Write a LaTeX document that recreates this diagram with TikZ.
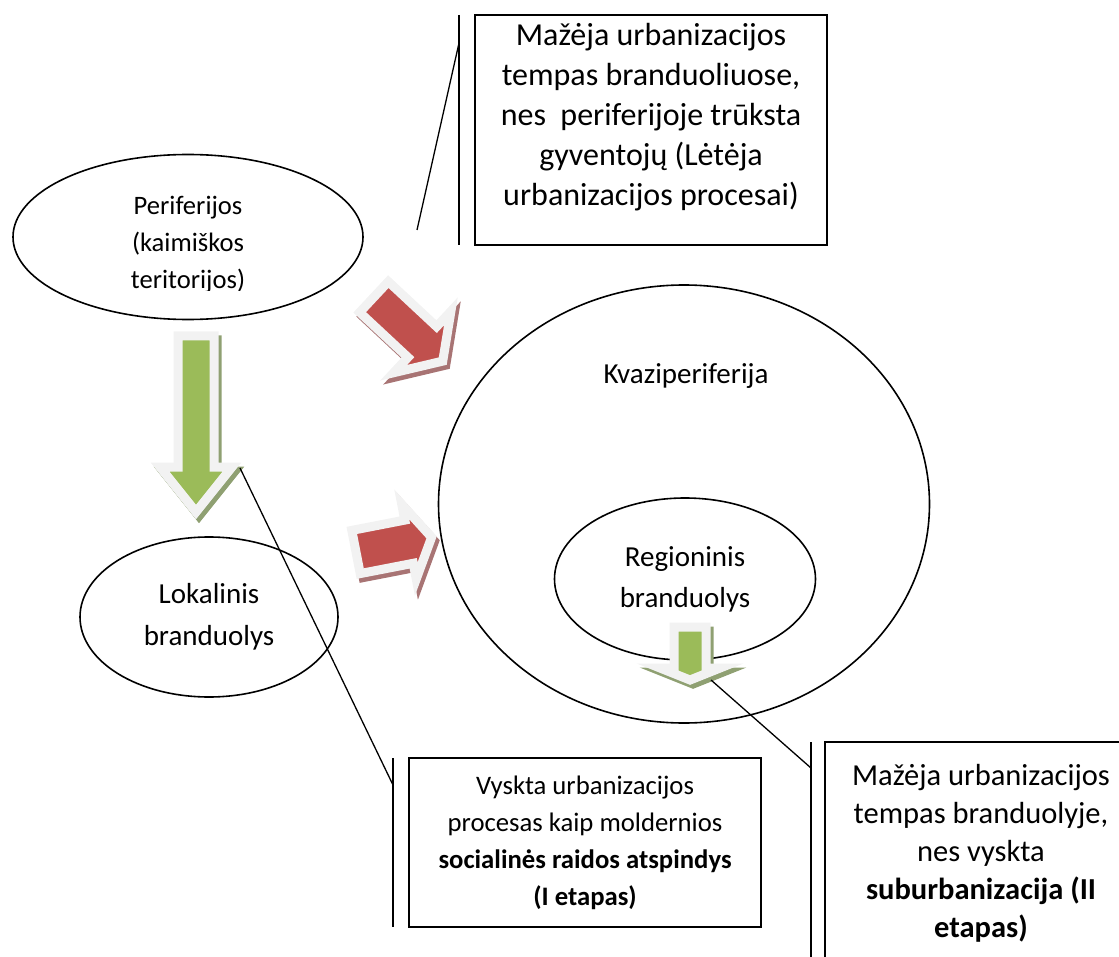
\documentclass[tikz,border=0pt]{standalone}
\usepackage{fontspec}
\setmainfont{Carlito}
\usetikzlibrary{shapes.geometric,positioning}

\definecolor{arrred}{HTML}{C0504D}
\definecolor{arrgreen}{HTML}{9BBB59}
\definecolor{arredge}{HTML}{F2F2F2}
\definecolor{shadred}{HTML}{A87474}
\definecolor{shadgreen}{HTML}{8FA072}

\begin{document}
\begin{tikzpicture}[
  x=1pt, y=-1pt,
  every node/.style={inner sep=0pt, align=center},
  oval/.style={ellipse, draw=black, line width=1.6pt},
  notebox/.style={rectangle, draw=black, line width=1.6pt},
  callout/.style={draw=black, line width=1.3pt},
  redarrow/.style={fill=arrred, draw=arredge, line width=9pt, line join=miter,
    preaction={fill=shadred, draw=shadred, line width=9pt, line join=miter,
      transform canvas={shift={(3,4)}}}},
  greenarrow/.style={fill=arrgreen, draw=arredge, line width=9pt, line join=miter,
    preaction={fill=shadgreen, draw=shadgreen, line width=9pt, line join=miter,
      transform canvas={shift={(3,4)}}}}
]
\useasboundingbox (0,0) rectangle (1119,957);

\node[oval, minimum width=350, minimum height=165] (peri) at (188,237) {};
\begin{scope}
  \clip (0,150) rectangle (480,291);
  \node[font=\fontsize{26.6}{37}\selectfont] (periTxt) at (188,245) {Periferijos\\(kaimiškos\\teritorijos)};
\end{scope}

\node[oval, minimum width=491, minimum height=438] (kvazi) at (684,504) {};
\node[font=\fontsize{29}{41}\selectfont] (kvaziTxt) at (686,376) {Kvaziperiferija};
\node[oval, minimum width=261, minimum height=162, font=\fontsize{29}{41}\selectfont] (regio) at (685,579) {Regioninis\\branduolys};
\node[oval, minimum width=258, minimum height=160, font=\fontsize{29}{42}\selectfont] (lokal) at (209,617) {Lokalinis\\branduolys};

\node[notebox, minimum width=352, minimum height=230] (notetop) at (651,130) {};
\node[font=\fontsize{32}{40}\selectfont] (notetopTxt) at (651,117) {Mažėja urbanizacijos\\tempas branduoliuose,\\nes\ \ periferijoje trūksta\\gyventojų (Lėtėja\\urbanizacijos procesai)};
\node[notebox, minimum width=352, minimum height=169, font=\fontsize{26.7}{37}\selectfont] (noteleft) at (585,842.5) {Vyskta urbanizacijos\\procesas kaip moldernios\\\textbf{socialinės raidos atspindys}\\\textbf{(I etapas)}};
\node[notebox, minimum width=312, minimum height=222, font=\fontsize{30.5}{38}\selectfont] (noteright) at (981,853) {Mažėja urbanizacijos\\tempas branduolyje,\\nes vyskta\\\textbf{suburbanizacija (II}\\\textbf{etapas)}};

\path[greenarrow] (178,336) -- (214,336) -- (214,467) -- (232,467) -- (196,512) -- (160,467) -- (178,467) -- cycle;
\path[greenarrow] (674,627) -- (706,627) -- (706,668) -- (720,668) -- (690,680) -- (660,668) -- (674,668) -- cycle;
\begin{scope}[shift={(374,297)}, rotate=-43]
  \path[redarrow] (0,-21) -- (66,-21) -- (66,-42) -- (94,0) -- (66,42) -- (66,21) -- (0,21) -- cycle;
\end{scope}
\begin{scope}[shift={(356,552)}, rotate=11]
  \path[redarrow] (0,-22) -- (54,-22) -- (54,-38) -- (77,0) -- (54,38) -- (54,22) -- (0,22) -- cycle;
\end{scope}

\coordinate (topbarA) at (459,15);
\coordinate (topbarB) at (459,245);
\coordinate (toptick) at (459,43);
\coordinate (topend) at (417,230);
\coordinate (leftbarA) at (393,758);
\coordinate (leftbarB) at (393,927);
\coordinate (lefttick) at (393,785);
\coordinate (leftend) at (240,468);
\coordinate (rightbarA) at (811,742);
\coordinate (rightbarB) at (811,960);
\coordinate (righttick) at (811,768);
\coordinate (rightend) at (711,680);
\draw[callout] (topbarA) -- (topbarB);
\draw[callout] (toptick) -- (topend);
\draw[callout] (leftbarA) -- (leftbarB);
\draw[callout] (lefttick) -- (leftend);
\draw[callout] (rightbarA) -- (rightbarB);
\draw[callout] (righttick) -- (rightend);
\end{tikzpicture}
\end{document}
